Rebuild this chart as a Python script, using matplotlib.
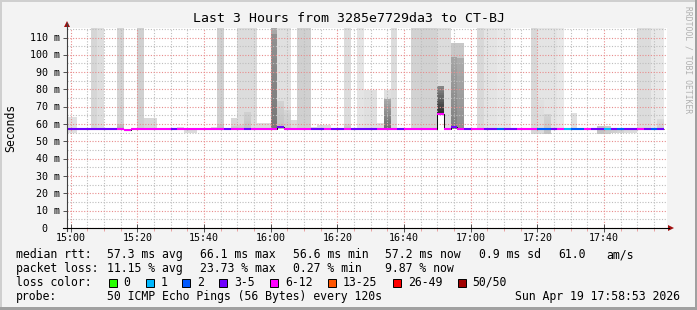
import matplotlib
matplotlib.use("Agg")
import matplotlib.pyplot as plt
import matplotlib.transforms as mtransforms
from matplotlib.patches import Rectangle, Polygon
from matplotlib.lines import Line2D
import numpy as np

W, H, DPI = 697, 310, 100
MONO = "DejaVu Sans Mono"

# ---------------- data ----------------
title = "Last 3 Hours from 3285e7729da3 to CT-BJ"
x_tick_minutes = [0, 20, 40, 60, 80, 100, 120, 140, 160]          # minutes after 15:00
x_tick_labels = ["15:00", "15:20", "15:40", "16:00", "16:20", "16:40", "17:00", "17:20", "17:40"]
y_ticks_ms = [0, 10, 20, 30, 40, 50, 60, 70, 80, 90, 100, 110]
y_tick_labels = ["0  ", "10 m", "20 m", "30 m", "40 m", "50 m", "60 m", "70 m", "80 m", "90 m", "100 m", "110 m"]

# each 2-minute RRD step ends at this minute after 15:00
bin_end = list(range(0, 180, 2))

median_ms = [
    57.3, 57.3, 57.2, 57.3, 57.3, 57.3, 57.2, 57.3, 57.4, 56.6,
    57.3, 57.3, 57.3, 57.3, 57.2, 57.3, 57.3, 57.3, 57.3, 57.2,
    57.3, 57.3, 57.3, 57.3, 57.3, 57.3, 57.3, 57.4, 57.3, 57.3,
    57.3, 57.4, 58.3, 57.3, 57.3, 57.3, 57.3, 57.2, 57.3, 57.3,
    57.3, 57.3, 57.3, 57.3, 57.3, 57.3, 57.3, 57.3, 57.3, 57.3,
    57.3, 57.3, 57.3, 57.3, 57.3, 57.3, 66.1, 57.3, 58.5, 57.3,
    57.3, 57.3, 57.3, 57.3, 57.3, 57.3, 57.3, 57.3, 57.3, 57.3,
    57.3, 57.3, 57.3, 57.3, 57.3, 57.3, 57.3, 57.3, 57.3, 57.3,
    57.3, 57.3, 57.3, 57.3, 57.3, 57.3, 57.3, 57.3, 57.3, 57.2,
]

# index into loss_labels / loss_colors
loss_class = [
    3, 3, 3, 3, 3, 3, 3, 3, 4, 4,
    4, 4, 4, 4, 4, 4, 3, 4, 4, 4,
    4, 4, 4, 4, 3, 4, 4, 3, 4, 4,
    4, 4, 3, 4, 4, 4, 4, 3, 3, 4,
    3, 3, 4, 3, 3, 3, 3, 4, 4, 4,
    3, 4, 4, 4, 4, 4, 4, 4, 3, 4,
    3, 4, 4, 3, 3, 2, 3, 3, 4, 4,
    4, 2, 2, 3, 4, 1, 2, 2, 4, 3,
    3, 1, 3, 2, 3, 3, 4, 3, 2, 3,
]

# smoke (ping spread) per step: lower / upper bound in ms (0 = no smoke)
smoke_lo = [
    54.7, 54.7, 0, 0, 57.3, 57.3, 0, 0, 57.3, 0,
    0, 57.3, 57.3, 57.3, 0, 0, 0, 57.3, 54.7, 54.7,
    0, 0, 57.3, 57.3, 0, 57.3, 57.3, 57.3, 57.3, 57.3,
    57.3, 57.3, 57.3, 57.3, 57.3, 57.3, 57.3, 57.3, 57.3, 57.3,
    0, 0, 57.3, 0, 57.3, 57.3, 57.3, 57.3, 57.3, 57.3,
    0, 0, 57.3, 57.3, 57.3, 57.3, 66.0, 57.3, 57.3, 57.3,
    0, 0, 57.3, 57.3, 57.3, 57.3, 57.3, 0, 0, 0,
    54.5, 54.5, 54.5, 57.3, 57.3, 0, 57.3, 0, 0, 0,
    54.3, 54.3, 54.7, 54.7, 55.0, 55.0, 57.3, 57.3, 57.3, 57.3,
]
smoke_hi = [
    64.3, 64.3, 0, 0, 125, 125, 0, 0, 125, 0,
    0, 125, 63.7, 63.7, 0, 0, 0, 58.5, 57.3, 57.3,
    0, 0, 58.5, 125, 0, 63.6, 125, 125, 125, 60.8,
    60.8, 125, 125, 125, 62.4, 125, 125, 58.3, 59.5, 59.5,
    0, 0, 125, 0, 125, 79.7, 79.7, 60.5, 79.7, 125,
    0, 0, 125, 125, 125, 125, 125, 125, 107, 107,
    0, 0, 125, 125, 125, 125, 125, 0, 0, 0,
    125, 125, 125, 125, 125, 0, 66.6, 0, 0, 0,
    59.0, 59.0, 57.6, 57.6, 57.3, 57.3, 125, 125, 125, 125,
]
smoke_grey = [
    0xe0, 0xe0, 0xff, 0xff, 0xd6, 0xde, 0xff, 0xff, 0xd4, 0xff,
    0xff, 0xd0, 0xd8, 0xd8, 0xff, 0xff, 0xff, 0xdc, 0xdc, 0xdc,
    0xff, 0xff, 0xdc, 0xd0, 0xff, 0xd8, 0xdc, 0xdc, 0xdc, 0xdc,
    0xdc, 0xa8, 0xe0, 0xe0, 0xdc, 0xd0, 0xd0, 0xdc, 0xdc, 0xdc,
    0xff, 0xff, 0xdc, 0xff, 0xe4, 0xe0, 0xe0, 0xe0, 0xe0, 0xdc,
    0xff, 0xff, 0xd2, 0xd2, 0xd2, 0xd2, 0xdc, 0xdc, 0xc8, 0xc8,
    0xff, 0xff, 0xd8, 0xe4, 0xe4, 0xe8, 0xe8, 0xff, 0xff, 0xff,
    0xd8, 0xe4, 0xe4, 0xe4, 0xe8, 0xff, 0xe0, 0xff, 0xff, 0xff,
    0xc4, 0xcc, 0xd0, 0xd4, 0xdc, 0xdc, 0xdc, 0xdc, 0xe8, 0xe8,
]
# denser core of the smoke (0 = none) and its darkest grey
core_hi = [
    0, 0, 0, 0, 0, 0, 0, 0, 60.0, 0,
    0, 0, 0, 0, 0, 0, 0, 0, 0, 0,
    0, 0, 0, 60.0, 0, 59.0, 59.5, 66.8, 0, 0,
    0, 111.9, 73.4, 68.0, 0, 0, 0, 0, 0, 0,
    0, 0, 60.0, 0, 0, 0, 0, 0, 74.5, 0,
    0, 0, 0, 0, 0, 0, 82.0, 0, 99.0, 98.0,
    0, 0, 0, 0, 0, 0, 0, 0, 0, 0,
    0, 74.0, 66.0, 0, 0, 0, 0, 0, 0, 0,
    0, 0, 0, 0, 0, 0, 0, 0, 0, 62.8,
]
core_grey = [
    0, 0, 0, 0, 0, 0, 0, 0, 0xb4, 0,
    0, 0, 0, 0, 0, 0, 0, 0, 0, 0,
    0, 0, 0, 0xc0, 0, 0xc4, 0xc8, 0xc4, 0, 0,
    0, 0x78, 0xc4, 0xcc, 0, 0, 0, 0, 0, 0,
    0, 0, 0xc4, 0, 0, 0, 0, 0, 0x70, 0,
    0, 0, 0, 0, 0, 0, 0x30, 0, 0x80, 0x90,
    0, 0, 0, 0, 0, 0, 0, 0, 0, 0,
    0, 0xdc, 0xc4, 0, 0, 0, 0, 0, 0, 0,
    0, 0, 0, 0, 0, 0, 0, 0, 0, 0xd0,
]

loss_labels = ["0", "1", "2", "3-5", "6-12", "13-25", "26-49", "50/50"]
loss_colors = ["#26ff00", "#00b8ff", "#0059ff", "#7000ff", "#ff00ff", "#ff5500", "#ff0000", "#a00000"]

stats_rtt = [("median rtt:", 16), ("57.3 ms avg", 107.3), ("66.1 ms max", 200.3), ("56.6 ms min", 293.3),
             ("57.2 ms now", 385), ("0.9 ms sd", 479.3), ("61.0", 558.3), ("am/s", 606.7)]
stats_loss = [("packet loss:", 16), ("11.15 % avg", 107.3), ("23.73 % max", 200.3), ("0.27 % min", 293.3),
              ("9.87 % now", 385)]
probe_text = "50 ICMP Echo Pings (56 Bytes) every 120s"
stamp_text = "Sun Apr 19 17:58:53 2026"

# ---------------- figure ----------------
def grey(g):
    g = int(round(g))
    return "#%02x%02x%02x" % (g, g, g)

fig = plt.figure(figsize=(W / DPI, H / DPI), dpi=DPI, facecolor="#f3f3f3")
PX = mtransforms.Affine2D().scale(1.0 / W, -1.0 / H).translate(0, 1) + fig.transFigure

L, T, R, B = 67, 28, 667, 228
ax = fig.add_axes([L / W, 1 - B / H, (R - L) / W, (B - T) / H])
ax.set_facecolor("white")
t0 = -(1 + 7 / 60.0)   # 14:58:53
ax.set_xlim(t0, t0 + 180)
ax.set_ylim(0, 115.5)
for s in ax.spines.values():
    s.set_visible(False)

n = len(bin_end)
lefts = np.array(bin_end, dtype=float) - 2
lo = np.array(smoke_lo, dtype=float)
hi = np.array(smoke_hi, dtype=float)
for i in range(n):
    if hi[i] > 0:
        ax.bar(lefts[i], hi[i] - lo[i], bottom=lo[i], width=2, align="edge",
               color=grey(smoke_grey[i]), linewidth=0, antialiased=False, zorder=1)
    if core_hi[i] > 0:
        nsl = 12
        e = np.linspace(lo[i], core_hi[i], nsl + 1)
        g0 = core_grey[i]
        g1 = (core_grey[i] + smoke_grey[i]) / 2.0
        for j in range(nsl):
            g = g0 + (g1 - g0) * j / (nsl - 1)
            ax.bar(lefts[i], e[j + 1] - e[j], bottom=e[j], width=2, align="edge",
                   color=grey(g), linewidth=0, antialiased=False, zorder=1.1)

# grid
ax.set_xticks(x_tick_minutes)
ax.set_xticks(np.arange(0, 180, 5), minor=True)
ax.set_yticks(y_ticks_ms)
ax.set_yticks(np.arange(5, 116, 10), minor=True)
ax.set_axisbelow(False)
ax.grid(which="major", color="#e88c8c", linestyle=(0, (1, 1.5)), linewidth=0.8)
ax.grid(which="minor", color="#bdbdbd", linestyle=(0, (1, 1.5)), linewidth=0.8)
ax.tick_params(labelbottom=False, labelleft=False)
ax.tick_params(axis="y", which="major", length=3, width=0.7, color="#505050", direction="out")
ax.tick_params(axis="y", which="minor", length=0)
ax.tick_params(axis="x", which="major", length=6, width=0.7, color="#505050", direction="inout")
ax.tick_params(axis="x", which="minor", length=2.5, width=0.7, color="#e8a0a0", direction="out")

# median line: thin black step + coloured loss segments
edges = [bin_end[0] - 2] + bin_end
ax.stairs(median_ms, edges, baseline=None, color="#101010", linewidth=0.75, zorder=3)
ax.hlines(median_ms, lefts, np.array(bin_end, dtype=float),
          colors=[loss_colors[c] for c in loss_class], linewidth=1.5, zorder=4,
          capstyle="butt")

# axes lines and arrows (pixel coords)
fig.add_artist(Line2D([L, L], [B + 3, 23], transform=PX, color="#404040", linewidth=0.8))
fig.add_artist(Line2D([L - 4, R + 2], [B, B], transform=PX, color="#000000", linewidth=0.8))
fig.add_artist(Polygon([[L - 3, 27], [L + 3, 27], [L, 21]], closed=True, transform=PX,
                       facecolor="#a01010", edgecolor="none"))
fig.add_artist(Polygon([[R + 1, B - 3], [R + 1, B + 3], [R + 7, B]], closed=True, transform=PX,
                       facecolor="#a01010", edgecolor="none"))

# tick labels
ytr = mtransforms.blended_transform_factory(PX, ax.transData) + \
    mtransforms.ScaledTranslation(0, -3.6 / DPI, fig.dpi_scale_trans)
for v, lab in zip(y_ticks_ms, y_tick_labels):
    trail = len(lab) - len(lab.rstrip())
    fig.text(59.5 - 6.0 * trail, v, lab.rstrip(), transform=ytr, ha="right", va="baseline",
             fontsize=7.2, family=MONO, color="#000000")
xtr = mtransforms.blended_transform_factory(ax.transData, PX)
for m, lab in zip(x_tick_minutes, x_tick_labels):
    fig.text(m, 241, lab, transform=xtr, ha="center", va="baseline",
             fontsize=7.2, family=MONO, color="#000000")

# title, axis label, watermark
fig.text(349, 19, title, transform=PX, ha="center", va="center", fontsize=9.5, family=MONO, color="#000000")
fig.text(10.5, 128, "Seconds", transform=PX, ha="center", va="center", rotation=90,
         fontsize=8.3, family=MONO, color="#000000")
fig.text(688, 60, "RRDTOOL / TOBI OETIKER", transform=PX, ha="center", va="center", rotation=270,
         fontsize=5.8, family=MONO, color="#b0b0b0")

# legend / statistics
rows_y = [258.3, 272.1, 285.9, 299.7]
for txt, x in stats_rtt:
    fig.text(x, rows_y[0], txt, transform=PX, ha="left", va="baseline", fontsize=8.3, family=MONO)
for txt, x in stats_loss:
    fig.text(x, rows_y[1], txt, transform=PX, ha="left", va="baseline", fontsize=8.3, family=MONO)
fig.text(16, rows_y[2], "loss color:", transform=PX, ha="left", va="baseline", fontsize=8.3, family=MONO)
cx = 108.7
for lab, col in zip(loss_labels, loss_colors):
    fig.add_artist(Rectangle((cx, rows_y[2] - 6.8), 8, 8, transform=PX, facecolor=col,
                             edgecolor="#000000", linewidth=0.7))
    fig.text(cx + 14.7, rows_y[2], lab, transform=PX, ha="left", va="baseline", fontsize=8.3, family=MONO)
    cx = cx + 14.7 + 7.0 * len(lab) + 15.2
fig.text(16, rows_y[3], "probe:", transform=PX, ha="left", va="baseline", fontsize=8.3, family=MONO)
fig.text(107.3, rows_y[3], probe_text, transform=PX, ha="left", va="baseline", fontsize=8.3, family=MONO)
fig.text(680, rows_y[3], stamp_text, transform=PX, ha="right", va="baseline", fontsize=8.3, family=MONO)

# 3-D frame
fig.add_artist(Rectangle((0, 0), W, 2, transform=PX, facecolor="#cfcfcf", edgecolor="none"))
fig.add_artist(Rectangle((0, 0), 2, H, transform=PX, facecolor="#cfcfcf", edgecolor="none"))
fig.add_artist(Rectangle((0, H - 3), W, 3, transform=PX, facecolor="#a0a0a0", edgecolor="none"))
fig.add_artist(Rectangle((W - 2, 0), 2, H, transform=PX, facecolor="#a0a0a0", edgecolor="none"))

fig.savefig("out.png", dpi=DPI, facecolor=fig.get_facecolor())
